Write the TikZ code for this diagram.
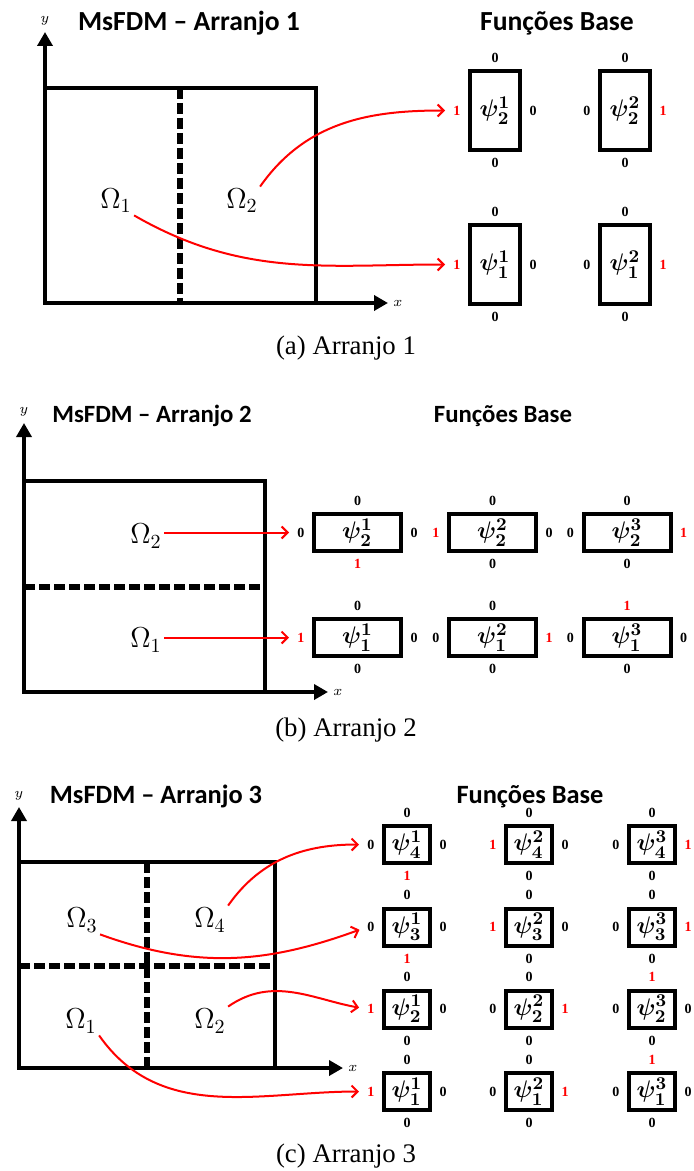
\documentclass[tikz,border=0pt]{standalone}
\usepackage{amsmath,amssymb}
\usepackage{fontspec}
\setmainfont{Liberation Serif}
\newfontfamily\carlito{Carlito}
\usepackage{tikz}
\usetikzlibrary{arrows.meta,positioning,calc}

\newcommand{\redone}{\textcolor{red}{1}}
% basis function box with its four boundary values (top, bottom, left, right)
\newcommand{\basisbox}[8]{%
  \node[#1] (#2) at #3 {$\boldsymbol{#4}$};
  \node[bval, above=3.1pt of #2] (#2-t) {#5};
  \node[bval, below=3.1pt of #2] (#2-b) {#6};
  \node[bval, left=3.6pt of #2] (#2-l) {#7};
  \node[bval, right=3.6pt of #2] (#2-r) {#8};
}

\begin{document}
\begin{tikzpicture}[x=0.5pt, y=-0.5pt,
  wall/.style={line width=2.3pt},
  seam/.style={line width=2.6pt, dash pattern=on 5.5pt off 2pt},
  axisline/.style={line width=2.3pt, -{Triangle[length=7pt,width=7.5pt]}},
  headline/.style={font=\carlito\bfseries\fontsize{#1}{#1}\selectfont, anchor=base},
  capt/.style={font=\fontsize{13.4}{15}\selectfont, anchor=base},
  axlabel/.style={font=\fontsize{7}{8}\selectfont, inner sep=0pt},
  omega/.style={font=\fontsize{14}{16}\selectfont, inner sep=1pt},
  basebox/.style={draw, line width=2pt, inner sep=0pt, font=\fontsize{12.5}{14}\selectfont},
  boxa/.style={basebox, minimum width=25pt, minimum height=39.5pt},
  boxb/.style={basebox, minimum width=43.5pt, minimum height=18.5pt},
  boxc/.style={basebox, minimum width=23pt, minimum height=18.5pt},
  bval/.style={font=\bfseries\fontsize{7}{8}\selectfont, inner sep=0pt},
  feed/.style={red, line width=1pt, -{Straight Barb[length=3pt,width=6pt]}, shorten >=4pt}]
\useasboundingbox (0,0) rectangle (693,1171);

% ---------------- (a) Arranjo 1
\draw[wall] (45,303) rectangle (316,88);
\draw[seam] (180,88) -- (180,303);
\draw[axisline] (45,303) -- (45,32) node[axlabel, above=2pt] (ya) {$y$};
\draw[axisline] (45,303) -- (388,303) node[axlabel, right=1.5pt] (xa) {$x$};
\node[headline=13.8] (ta) at (189,31) {MsFDM – Arranjo 1};
\node[headline=13.8] (fa) at (557,31) {Funções Base};
\node[omega] (a1) at (116,201) {$\Omega_1$};
\node[omega] (a2) at (242,201) {$\Omega_2$};
\basisbox{boxa}{a21}{(495,110.5)}{\psi_2^1}{0}{0}{\redone}{0}
\basisbox{boxa}{a22}{(625,110.5)}{\psi_2^2}{0}{0}{0}{\redone}
\basisbox{boxa}{a11}{(495,264.5)}{\psi_1^1}{0}{0}{\redone}{0}
\basisbox{boxa}{a12}{(625,264.5)}{\psi_1^2}{0}{0}{0}{\redone}
\draw[feed] (a2.north east) to[out=55,in=180] (a21-l.west);
\draw[feed] (a1.south east) to[out=-30,in=180] (a11-l.west);
\node[capt] (capa) at (346,355) {(a) Arranjo 1};

% ---------------- (b) Arranjo 2
\draw[wall] (24,692) rectangle (265,481);
\draw[seam] (24,587) -- (265,587);
\draw[axisline] (24,692) -- (24,423) node[axlabel, above=2pt] (yb) {$y$};
\draw[axisline] (24,692) -- (328,692) node[axlabel, right=1.5pt] (xb) {$x$};
\node[headline=12.4] (tb) at (152,422) {MsFDM – Arranjo 2};
\node[headline=12.4] (fb) at (503,422) {Funções Base};
\node[omega] (b2) at (146,536) {$\Omega_2$};
\node[omega] (b1) at (146,640) {$\Omega_1$};
\basisbox{boxb}{b21}{(357.5,532.5)}{\psi_2^1}{0}{\redone}{0}{0}
\basisbox{boxb}{b22}{(492.5,532.5)}{\psi_2^2}{0}{0}{\redone}{0}
\basisbox{boxb}{b23}{(627,532.5)}{\psi_2^3}{0}{0}{0}{\redone}
\basisbox{boxb}{b11}{(357.5,637.5)}{\psi_1^1}{0}{0}{\redone}{0}
\basisbox{boxb}{b12}{(492.5,637.5)}{\psi_1^2}{0}{0}{0}{\redone}
\basisbox{boxb}{b13}{(627,637.5)}{\psi_1^3}{\redone}{0}{0}{0}
\draw[feed] (b2.east |- b21-l) -- (b21-l.west);
\draw[feed] (b1.east |- b11-l) -- (b11-l.west);
\node[capt] (capb) at (346,736) {(b) Arranjo 2};

% ---------------- (c) Arranjo 3
\draw[wall] (19,1068) rectangle (275,862);
\draw[seam] (147,862) -- (147,1068);
\draw[seam] (19,966) -- (275,966);
\draw[axisline] (19,1068) -- (19,807) node[axlabel, above=2pt] (yc) {$y$};
\draw[axisline] (19,1068) -- (343,1068) node[axlabel, right=1.5pt] (xc) {$x$};
\node[headline=13.2] (tc) at (156,803) {MsFDM – Arranjo 3};
\node[headline=13.2] (fc) at (530,803) {Funções Base};
\node[omega] (c3) at (82,920) {$\Omega_3$};
\node[omega] (c4) at (210,920) {$\Omega_4$};
\node[omega] (c1) at (81,1021) {$\Omega_1$};
\node[omega] (c2) at (210,1021) {$\Omega_2$};
\basisbox{boxc}{c41}{(407,844.5)}{\psi_4^1}{0}{\redone}{0}{0}
\basisbox{boxc}{c42}{(529,844.5)}{\psi_4^2}{0}{0}{\redone}{0}
\basisbox{boxc}{c43}{(652,844.5)}{\psi_4^3}{0}{0}{0}{\redone}
\basisbox{boxc}{c31}{(407,927)}{\psi_3^1}{0}{\redone}{0}{0}
\basisbox{boxc}{c32}{(529,927)}{\psi_3^2}{0}{0}{\redone}{0}
\basisbox{boxc}{c33}{(652,927)}{\psi_3^3}{0}{0}{0}{\redone}
\basisbox{boxc}{c21}{(407,1009)}{\psi_2^1}{0}{0}{\redone}{0}
\basisbox{boxc}{c22}{(529,1009)}{\psi_2^2}{0}{0}{0}{\redone}
\basisbox{boxc}{c23}{(652,1009)}{\psi_2^3}{\redone}{0}{0}{0}
\basisbox{boxc}{c11}{(407,1091.5)}{\psi_1^1}{0}{0}{\redone}{0}
\basisbox{boxc}{c12}{(529,1091.5)}{\psi_1^2}{0}{0}{0}{\redone}
\basisbox{boxc}{c13}{(652,1091.5)}{\psi_1^3}{\redone}{0}{0}{0}
\draw[feed] (c4.north east) to[out=55,in=180] (c41-l.west);
\draw[feed] (c3.south east) to[out=-20,in=200] (c31-l.west);
\draw[feed] (c2.north east) to[out=35,in=170] (c21-l.west);
\draw[feed] (c1.south east) to[out=-55,in=180] (c11-l.west);
\node[capt] (capc) at (346,1162) {(c) Arranjo 3};
\end{tikzpicture}
\end{document}
